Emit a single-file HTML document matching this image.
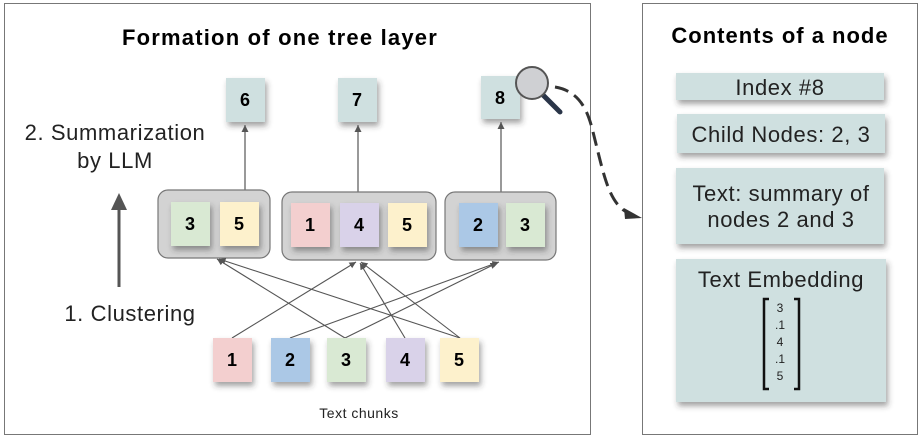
<!DOCTYPE html>
<html><head><meta charset="utf-8"><style>
body{margin:0;background:#fff;}
svg{display:block;font-family:"Liberation Sans",sans-serif;}
.b{font-weight:bold;font-size:18px;text-anchor:middle;fill:#000;}
.t{font-size:22px;fill:#222;text-anchor:middle;letter-spacing:0.6px;}
</style></head><body>
<svg width="924" height="440" viewBox="0 0 924 440" xmlns="http://www.w3.org/2000/svg">
<defs>
<filter id="sh" x="-30%" y="-30%" width="160%" height="170%"><feDropShadow dx="2" dy="4" stdDeviation="3" flood-color="#333" flood-opacity="0.45"/></filter>
<marker id="ah" markerWidth="8" markerHeight="8" refX="6" refY="3" orient="auto"><path d="M0,0 L6,3 L0,6 z" fill="#555"/></marker>
</defs>
<rect x="4.5" y="3.5" width="586" height="431" fill="#fff" stroke="#777"/>
<rect x="642.5" y="3.5" width="275" height="431" fill="#fff" stroke="#777"/>
<text x="280" y="45" font-size="22" font-weight="bold" text-anchor="middle" letter-spacing="1.2">Formation of one tree layer</text>
<text x="780" y="43" font-size="22" font-weight="bold" text-anchor="middle" letter-spacing="1">Contents of a node</text>
<text class="t" x="115" y="140" letter-spacing="1">2. Summarization</text>
<text class="t" x="115" y="168">by LLM</text>
<text class="t" x="130" y="321" letter-spacing="1">1. Clustering</text>
<line x1="119" y1="287" x2="119" y2="208" stroke="#555" stroke-width="3"/>
<path d="M111,210 L119,193 L127,210 z" fill="#555"/>
<g filter="url(#sh)" fill="#cfe0e0">
<rect x="226" y="78" width="39" height="44"/><rect x="338" y="78" width="39" height="44"/><rect x="481" y="76" width="39" height="43"/>
</g>
<text class="b" x="245" y="106">6</text><text class="b" x="357" y="106">7</text><text class="b" x="500" y="104">8</text>
<g stroke="#555" stroke-width="1.2" marker-end="url(#ah)">
<line x1="245" y1="190" x2="245" y2="125"/><line x1="358" y1="192" x2="358" y2="125"/><line x1="501" y1="192" x2="501" y2="122"/>
</g>
<g fill="#d3d3d3" stroke="#777" stroke-width="1.2">
<rect x="158" y="190" width="112" height="68" rx="10"/>
<rect x="282" y="192" width="154" height="68" rx="10"/>
<rect x="445" y="192" width="111" height="68" rx="10"/>
</g>
<g filter="url(#sh)">
<rect x="171" y="202" width="39" height="44" fill="#d9e9d3"/>
<rect x="220" y="202" width="39" height="44" fill="#fdf1cc"/>
<rect x="291" y="203" width="39" height="44" fill="#f3cfcf"/>
<rect x="340" y="203" width="39" height="44" fill="#d9d2e9"/>
<rect x="388" y="203" width="39" height="44" fill="#fdf1cc"/>
<rect x="459" y="203" width="39" height="44" fill="#abc8e6"/>
<rect x="506" y="203" width="39" height="44" fill="#d9e9d3"/>
</g>
<text class="b" x="190" y="230">3</text><text class="b" x="239" y="230">5</text>
<text class="b" x="310" y="231">1</text><text class="b" x="359" y="231">4</text><text class="b" x="407" y="231">5</text>
<text class="b" x="478" y="231">2</text><text class="b" x="525" y="231">3</text>
<g stroke="#555" stroke-width="1.1" marker-end="url(#ah)">
<line x1="232" y1="338" x2="356" y2="262"/>
<line x1="290" y1="338" x2="499" y2="262"/>
<line x1="345" y1="338" x2="217" y2="259"/>
<line x1="345" y1="338" x2="497" y2="263"/>
<line x1="405" y1="338" x2="360" y2="263"/>
<line x1="460" y1="338" x2="219" y2="259"/>
<line x1="460" y1="338" x2="361" y2="262"/>
</g>
<g filter="url(#sh)">
<rect x="213" y="338" width="39" height="44" fill="#f3cfcf"/>
<rect x="271" y="338" width="39" height="44" fill="#abc8e6"/>
<rect x="327" y="338" width="39" height="44" fill="#d9e9d3"/>
<rect x="386" y="338" width="39" height="44" fill="#d9d2e9"/>
<rect x="440" y="338" width="39" height="44" fill="#fdf1cc"/>
</g>
<text class="b" x="232" y="366">1</text><text class="b" x="290" y="366">2</text><text class="b" x="346" y="366">3</text><text class="b" x="405" y="366">4</text><text class="b" x="459" y="366">5</text>
<text x="359" y="418" font-size="14" text-anchor="middle" fill="#222" letter-spacing="0.5">Text chunks</text>
<line x1="543" y1="95" x2="560" y2="112" stroke="#2a3548" stroke-width="5" stroke-linecap="round"/>
<circle cx="532" cy="83" r="16" fill="#cfd0d3" stroke="#555" stroke-width="2"/>
<path d="M555,87 C585,92 590,120 595,140 C605,180 610,205 630,214" fill="none" stroke="#333" stroke-width="3" stroke-dasharray="14,7"/>
<path d="M624,208 L642,218 L625,219 z" fill="#333"/>
<g filter="url(#sh)" fill="#cfe0e0">
<rect x="676" y="73" width="208" height="27"/>
<rect x="677" y="114" width="208" height="39"/>
<rect x="676" y="168" width="208" height="76"/>
<rect x="676" y="259" width="210" height="143"/>
</g>
<text class="t" x="780" y="95">Index #8</text>
<text class="t" x="781" y="142">Child Nodes: 2, 3</text>
<text class="t" x="781" y="201">Text:  summary of</text>
<text class="t" x="781" y="227">nodes 2 and 3</text>
<text class="t" x="781" y="287">Text Embedding</text>
<path d="M769,299 H764 V389 H769 M794,299 H799 V389 H794" fill="none" stroke="#111" stroke-width="2.5"/>
<g font-size="12" text-anchor="middle" fill="#222">
<text x="780" y="312">3</text><text x="780" y="329">.1</text><text x="780" y="346">4</text><text x="780" y="363">.1</text><text x="780" y="380">5</text>
</g>
</svg>
</body></html>
